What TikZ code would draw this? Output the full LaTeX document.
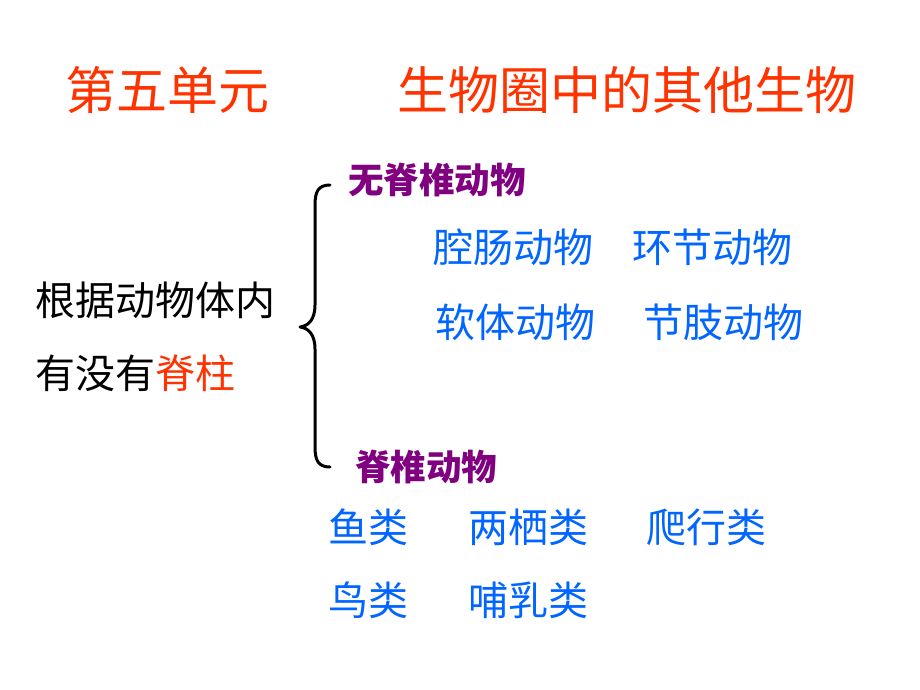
\documentclass[tikz,border=0pt]{standalone}
\usepackage{fontspec}
\setmainfont{Noto Sans CJK SC}
\definecolor{ttlred}{HTML}{FF3300}
\definecolor{pur}{HTML}{800080}
\definecolor{blu}{HTML}{0066FF}
\begin{document}
\begin{tikzpicture}[x=1pt,y=-1pt,
  every node/.style={inner sep=0pt,anchor=west},
  ttl/.style={text=ttlred,font=\fontsize{51}{51}\selectfont},
  cat/.style={text=pur,font=\fontsize{35.5}{35.5}\selectfont\bfseries},
  item/.style={text=blu,font=\fontsize{40}{40}\selectfont},
  lead/.style={text=black,font=\fontsize{40}{40}\selectfont},
  bracepath/.style={line width=3pt,line cap=round,line join=round}]
\useasboundingbox (0,0) rectangle (920,690);
\fill[white] (0,0) rectangle (920,690);
\node[ttl] (t1) at (65,90) {第五单元};
\node[ttl] (t2) at (397,90) {生物圈中的其他生物};
\node[cat] (wj) at (348,180) {无脊椎动物};
\node[item] (a1) at (433,247) {腔肠动物};
\node[item] (a2) at (632,247) {环节动物};
\node[item] (a3) at (435,322) {软体动物};
\node[item] (a4) at (643,322) {节肢动物};
\node[lead] (l1) at (35,300) {根据动物体内};
\node[lead] (l2) at (35,373) {有没有\textcolor{ttlred}{脊柱}};
\node[cat] (jz) at (355,467) {脊椎动物};
\node[item] (b1) at (328,527) {鱼类};
\node[item] (b2) at (468,527) {两栖类};
\node[item] (b3) at (646,527) {爬行类};
\node[item] (b4) at (328,600) {鸟类};
\node[item] (b5) at (468,600) {哺乳类};
\coordinate (btop) at (330,185);
\coordinate (bbot) at (330,467);
\coordinate (btip) at (300,327);
\draw[bracepath] (btop) .. controls (318,185) and (315,192) .. (315,205)
  -- (315,305) .. controls (315,320) and (308,326) .. (btip)
  .. controls (308,328) and (315,334) .. (315,349)
  -- (315,447) .. controls (315,460) and (318,467) .. (bbot);
\end{tikzpicture}
\end{document}
